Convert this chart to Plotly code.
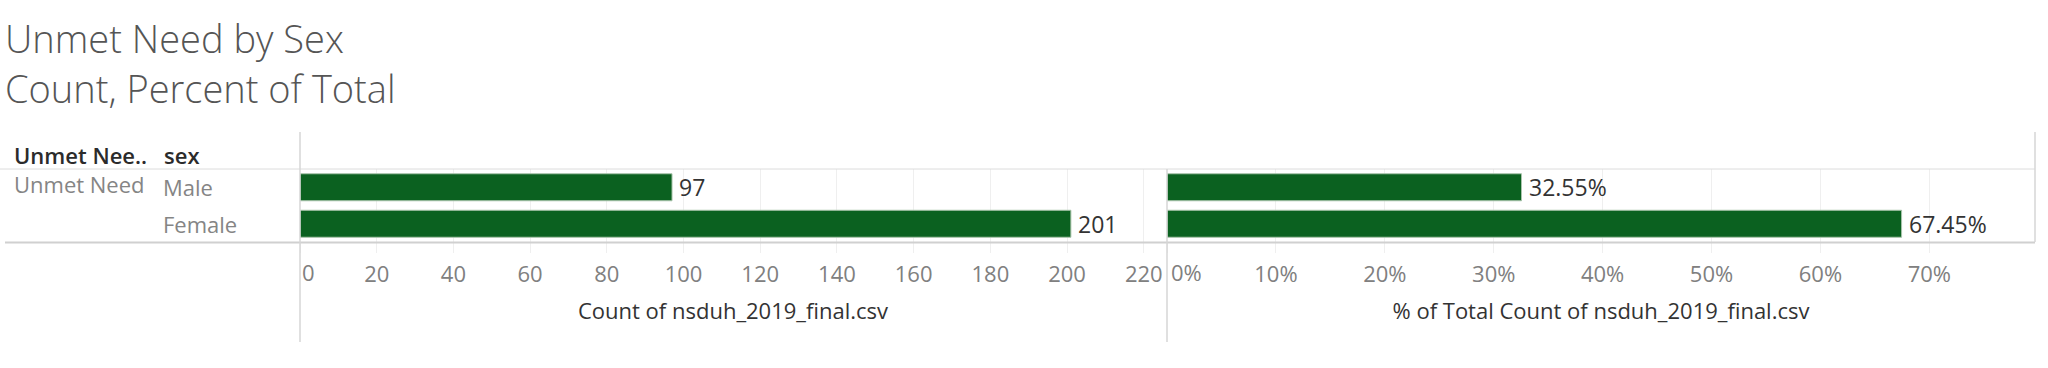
import plotly.graph_objects as go

# ---- data ----
categories = ["Male", "Female"]
counts = [97, 201]
percents = [0.3255, 0.6745]
percent_labels = ["32.55%", "67.45%"]
group_label = "Unmet Need"
count_ticks = [0, 20, 40, 60, 80, 100, 120, 140, 160, 180, 200, 220]
count_tick_labels = ["0", "20", "40", "60", "80", "100", "120", "140", "160", "180", "200", "220"]
pct_ticks = [0, 0.1, 0.2, 0.3, 0.4, 0.5, 0.6, 0.7]
pct_tick_labels = ["0%", "10%", "20%", "30%", "40%", "50%", "60%", "70%"]

# ---- layout helpers ----
W, H = 2048, 368
TOP, BOT = 169, 242


def px(x):
    return x / W


def py(y):
    return (BOT - y) / (BOT - TOP)


FONT = "Open Sans"
GREEN = "#0b6120"
GRID = "#efefef"
LINE = "#d6d6d6"
TICK_FONT = dict(family=FONT, size=22, color="#808080")
HEAD_FONT = dict(family=FONT, size=22, color="#2b2b2b", weight=600)

fig = go.Figure()
fig.add_trace(go.Bar(
    y=categories, x=counts, orientation="h", xaxis="x", yaxis="y",
    width=0.74, marker=dict(color=GREEN, line=dict(color="#a9c4ab", width=1)),
    hoverinfo="skip", showlegend=False,
))
fig.add_trace(go.Bar(
    y=categories, x=percents, orientation="h", xaxis="x2", yaxis="y",
    width=0.74, marker=dict(color=GREEN, line=dict(color="#a9c4ab", width=1)),
    hoverinfo="skip", showlegend=False,
))

annotations = []
# data labels
for c, v in zip(categories, counts):
    annotations.append(dict(x=v, y=c, xref="x", yref="y", text=str(v), showarrow=False,
                            xanchor="left", yanchor="middle", xshift=5,
                            font=dict(family=FONT, size=23, color="#333333")))
for c, v, t in zip(categories, percents, percent_labels):
    annotations.append(dict(x=v, y=c, xref="x2", yref="y", text=t, showarrow=False,
                            xanchor="left", yanchor="middle", xshift=5,
                            font=dict(family=FONT, size=23, color="#333333")))
# first tick labels sit to the right of the pane edge (as in the reference)
annotations.append(dict(x=count_ticks[0], y=py(272), xref="x", yref="paper",
                        text=count_tick_labels[0], showarrow=False, xanchor="left",
                        yanchor="middle", xshift=0, font=TICK_FONT))
annotations.append(dict(x=pct_ticks[0], y=py(272), xref="x2", yref="paper",
                        text=pct_tick_labels[0], showarrow=False, xanchor="left",
                        yanchor="middle", xshift=2, font=TICK_FONT))
# row headers
annotations.append(dict(x=px(12), y=py(155), xref="paper", yref="paper", text="Unmet Nee..",
                        showarrow=False, xanchor="left", yanchor="middle", align="left",
                        font=HEAD_FONT))
annotations.append(dict(x=px(162), y=py(155), xref="paper", yref="paper", text="sex",
                        showarrow=False, xanchor="left", yanchor="middle", align="left",
                        font=HEAD_FONT))
annotations.append(dict(x=px(12), y=categories[0], xref="paper", yref="y", text=group_label,
                        showarrow=False, xanchor="left", yanchor="middle", yshift=3,
                        font=dict(family=FONT, size=22, color="#858585")))
for c in categories:
    annotations.append(dict(x=px(161), y=c, xref="paper", yref="y", text=c,
                            showarrow=False, xanchor="left", yanchor="middle",
                            font=dict(family=FONT, size=22, color="#858585")))
# title
annotations.append(dict(x=px(3), y=py(38), xref="paper", yref="paper", text="Unmet Need by Sex",
                        showarrow=False, xanchor="left", yanchor="middle",
                        font=dict(family=FONT, size=38, color="#555555", weight=300)))
annotations.append(dict(x=px(3), y=py(88), xref="paper", yref="paper", text="Count, Percent of Total",
                        showarrow=False, xanchor="left", yanchor="middle",
                        font=dict(family=FONT, size=38, color="#555555", weight=300)))

shapes = [
    dict(type="line", xref="paper", yref="paper", x0=0, x1=px(2035), y0=py(169), y1=py(169),
         line=dict(color="#dcdcdc", width=1)),
    dict(type="line", xref="paper", yref="paper", x0=px(5), x1=px(2035), y0=py(242.5), y1=py(242.5),
         line=dict(color="#d0d0d0", width=2)),
    dict(type="line", xref="paper", yref="paper", x0=px(300), x1=px(300), y0=py(132), y1=py(342),
         line=dict(color=LINE, width=1.5)),
    dict(type="line", xref="paper", yref="paper", x0=px(1167), x1=px(1167), y0=py(169), y1=py(342),
         line=dict(color=LINE, width=1.5)),
    dict(type="line", xref="paper", yref="paper", x0=px(2035), x1=px(2035), y0=py(132), y1=py(242),
         line=dict(color=LINE, width=1.5)),
]

axis_common = dict(
    showgrid=True, gridcolor=GRID, gridwidth=1, zeroline=False, showline=False,
    ticks="outside", ticklen=10, tickcolor=GRID, tickwidth=1,
    tickfont=TICK_FONT, ticklabelstandoff=3,
    fixedrange=True, automargin=False,
)

fig.update_layout(
    width=W, height=H,
    margin=dict(l=0, r=0, t=TOP, b=H - BOT, pad=0, autoexpand=False),
    paper_bgcolor="white", plot_bgcolor="white",
    bargap=0.26,
    xaxis=dict(domain=[px(300), px(1166)], range=[0, 225.8], tickvals=count_ticks,
               ticktext=[""] + count_tick_labels[1:],
               title=dict(text="Count of nsduh_2019_final.csv", standoff=16,
                          font=dict(family=FONT, size=22, color="#333333")),
               anchor="y", **axis_common),
    xaxis2=dict(domain=[px(1167), px(2035)], range=[0, 0.797], tickvals=pct_ticks,
                ticktext=[""] + pct_tick_labels[1:],
                title=dict(text="% of Total Count of nsduh_2019_final.csv", standoff=16,
                           font=dict(family=FONT, size=22, color="#333333")),
                anchor="y", **axis_common),
    yaxis=dict(type="category", categoryorder="array", categoryarray=categories,
               range=[1.5, -0.5], showticklabels=False, showgrid=False, zeroline=False,
               showline=False, ticks="", fixedrange=True, automargin=False),
    annotations=annotations,
    shapes=shapes,
    font=dict(family=FONT),
)

fig.write_html("out.html", config={"displayModeBar": False})
